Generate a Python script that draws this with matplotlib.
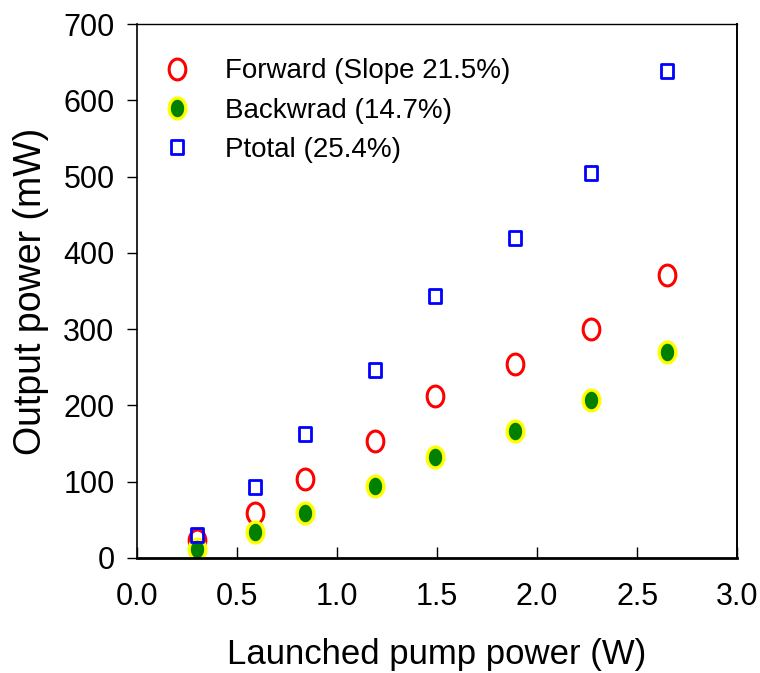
import numpy as np
import matplotlib.pyplot as plt
from matplotlib.path import Path

plt.rcParams['font.family'] = ['Liberation Sans', 'DejaVu Sans']

# Data
pump = [0.30, 0.59, 0.84, 1.19, 1.49, 1.89, 2.27, 2.65]
forward = [23, 59, 103, 153, 212, 255, 300, 371]
backward = [12, 34, 59, 94, 133, 166, 207, 270]
ptotal = [30, 93, 162, 246, 344, 420, 505, 639]

labels = ['Forward (Slope 21.5%)', 'Backwrad (14.7%)', 'Ptotal (25.4%)']

# markers in the original are a bit taller than wide
t = np.linspace(0, 2 * np.pi, 60)
ellipse = Path(np.column_stack([0.8 * np.cos(t), np.sin(t)]), closed=True)
rect = Path([(-0.83, -1), (0.83, -1), (0.83, 1), (-0.83, 1), (-0.83, -1)], closed=True)

fig = plt.figure(figsize=(7.6, 6.73), dpi=100)
ax = fig.add_axes([0.180, 0.171, 0.790, 0.793])

ax.plot(pump, forward, linestyle='none', marker=ellipse, markersize=15,
        markerfacecolor='none', markeredgecolor='red', markeredgewidth=2.2,
        label=labels[0])
ax.plot(pump, backward, linestyle='none', marker=ellipse, markersize=15,
        markerfacecolor='green', markeredgecolor='yellow', markeredgewidth=2.4,
        label=labels[1])
ax.plot(pump, ptotal, linestyle='none', marker=rect, markersize=10.5,
        markerfacecolor='none', markeredgecolor='blue', markeredgewidth=2.0,
        label=labels[2])

ax.set_xlim(0, 3.0)
ax.set_ylim(0, 700)
ax.set_xticks(np.arange(0, 3.01, 0.5))
ax.set_xticklabels([f'{v:.1f}' for v in np.arange(0, 3.01, 0.5)])
ax.set_yticks(np.arange(0, 701, 100))

ax.tick_params(axis='x', direction='in', length=8, width=1.0, pad=17, labelsize=22)
ax.tick_params(axis='y', direction='out', length=7, width=1.0, pad=9, labelsize=22)

ax.spines['bottom'].set_linewidth(2.0)
ax.spines['left'].set_linewidth(1.2)
ax.spines['top'].set_linewidth(1.0)
ax.spines['right'].set_linewidth(1.4)

ax.set_xlabel('Launched pump power (W)', fontsize=25, labelpad=19)
ax.set_ylabel('Output power (mW)', fontsize=27, labelpad=10)

ax.legend(loc='upper left', bbox_to_anchor=(0.02, 0.957), frameon=False,
          fontsize=20, handletextpad=1.15, labelspacing=0.48,
          handlelength=1.2, borderaxespad=0)

fig.savefig('out.png', dpi=100)
